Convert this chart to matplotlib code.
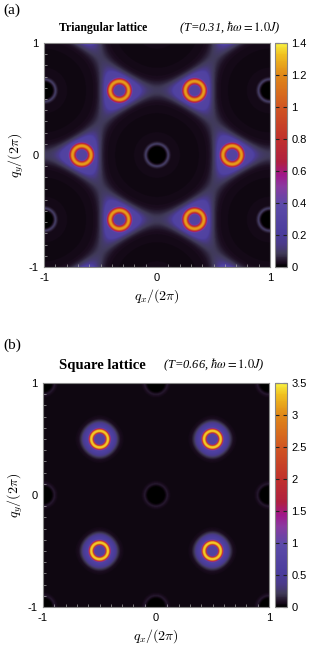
import numpy as np
import matplotlib
matplotlib.use('Agg')
import matplotlib.pyplot as plt
from matplotlib.colors import LinearSegmentedColormap
from matplotlib.ticker import MultipleLocator

# ring centres (one per sublattice) and reciprocal basis, in units of 2*pi
tri_centres = [(2/3, 0.0), (1/3, 1/np.sqrt(3))]
tri_basis = [(1.0, 1/np.sqrt(3)), (0.0, 2/np.sqrt(3))]
sq_centres = [(0.5, 0.5)]
sq_basis = [(1.0, 0.0), (0.0, 1.0)]

# background level vs lattice factor gamma(q)
tri_gamma = [-0.5, -0.44, -0.395, -0.38, -0.355, -0.333, -0.30, -0.25, -0.15, 0.0, 0.5,
             0.85, 0.88, 0.905, 0.93, 0.95, 1.0]
tri_level = [0.30, 0.30, 0.28, 0.15, 0.11, 0.09, 0.06, 0.035, 0.025, 0.022, 0.02,
             0.025, 0.06, 0.11, 0.04, 0.0, 0.0]
sq_gamma = [-1.0, -0.93, -0.87, -0.82, -0.76, -0.70, -0.60, 0.0, 0.84, 0.88, 0.905, 0.93, 0.95, 1.0]
sq_level = [0.70, 0.70, 0.65, 0.45, 0.20, 0.08, 0.05, 0.05, 0.05, 0.08, 0.12, 0.05, 0.0, 0.0]

# ring profile vs distance from ring centre
tri_ring_d = [0, 0.045, 0.06, 0.075, 0.09, 0.105, 0.12]
tri_ring_add = [0, 0, 0.45, 0.95, 0.95, 0.4, 0]
sq_ring_d = [0, 0.045, 0.055, 0.066, 0.082, 0.093, 0.105]
sq_ring_add = [0, 0, 1.2, 2.65, 2.65, 1.0, 0]

tri_ticks = [0, 0.2, 0.4, 0.6, 0.8, 1, 1.2, 1.4]
sq_ticks = [0, 0.5, 1, 1.5, 2, 2.5, 3, 3.5]
axis_ticks = [-1, 0, 1]

cmap_pos = [0, 0.02, 0.06, 0.1, 0.15, 0.28, 0.36, 0.41, 0.47, 0.57, 0.71, 0.86, 0.95, 1.0]
cmap_col = ['#000000', '#1a0c1e', '#403a58', '#4a3a88', '#4a3d9c', '#5b4aa8', '#8a3aa0',
            '#a0188a', '#b02040', '#c0302c', '#d05422', '#e08818', '#f0c020', '#f8f040']
cmap = LinearSegmentedColormap.from_list('pm', list(zip(cmap_pos, cmap_col)))

q = np.linspace(-1, 1, 500)
QX, QY = np.meshgrid(q, q)


def nearest(centres, basis):
    d = np.full(QX.shape, 10.0)
    for cx, cy in centres:
        for m in range(-3, 4):
            for n in range(-3, 4):
                gx = cx + m*basis[0][0] + n*basis[1][0]
                gy = cy + m*basis[0][1] + n*basis[1][1]
                d = np.minimum(d, np.hypot(QX - gx, QY - gy))
    return d


g_tri = (np.cos(2*np.pi*QX) + np.cos(np.pi*QX + np.sqrt(3)*np.pi*QY)
         + np.cos(-np.pi*QX + np.sqrt(3)*np.pi*QY)) / 3
g_sq = (np.cos(2*np.pi*QX) + np.cos(2*np.pi*QY)) / 2

I_tri = (np.interp(g_tri, tri_gamma, tri_level)
         + np.interp(nearest(tri_centres, tri_basis), tri_ring_d, tri_ring_add))
I_sq = (np.interp(g_sq, sq_gamma, sq_level)
        + np.interp(nearest(sq_centres, sq_basis), sq_ring_d, sq_ring_add))

W, H = 314, 646
fig = plt.figure(figsize=(W/100, H/100), dpi=100)


def px(l, t, r, b):
    return [l/W, 1 - b/H, (r - l)/W, (b - t)/H]


panels = [
    (I_tri, 1.4, tri_ticks, px(44, 43, 270, 267), px(275, 43, 287, 267),
     'Triangular lattice', 8.5, '(T=0.31, ', 179, 28, '(a)', 10),
    (I_sq, 3.5, sq_ticks, px(43, 383, 269, 607), px(275, 383, 287, 607),
     'Square lattice', 10.5, '(T=0.66, ', 163, 365, '(b)', 345),
]

for data, vmax, cticks, rect, crect, name, fs, temp, tx, ty, tag, tagy in panels:
    ax = fig.add_axes(rect)
    im = ax.imshow(data, extent=[-1, 1, -1, 1], origin='lower', cmap=cmap,
                   vmin=0, vmax=vmax, interpolation='bilinear', aspect='auto')
    ax.set_xticks(axis_ticks)
    ax.set_yticks(axis_ticks)
    ax.set_xticklabels(['-1', '0', '1'], family='Liberation Sans', fontsize=8)
    ax.set_yticklabels(['-1', '0', '1'], family='Liberation Sans', fontsize=8)
    ax.xaxis.set_minor_locator(MultipleLocator(0.1))
    ax.yaxis.set_minor_locator(MultipleLocator(0.1))
    ax.tick_params(which='both', direction='in', color='#aaaaaa', top=False, right=False)
    ax.tick_params(which='major', length=0, pad=4)
    ax.tick_params(which='minor', length=2, width=0.5)
    for s in ax.spines.values():
        s.set_color('#888888')
    ax.set_xlabel(r'$q_x/(2\pi)$', fontsize=10, math_fontfamily='cm', labelpad=3)
    ax.set_ylabel(r'$q_y/(2\pi)$', fontsize=10, math_fontfamily='cm', labelpad=2)

    cax = fig.add_axes(crect)
    cb = fig.colorbar(im, cax=cax, ticks=cticks)
    cb.ax.set_yticklabels([f'{t:g}' for t in cticks], family='Liberation Sans', fontsize=8)
    cb.ax.tick_params(direction='in', left=True, right=True, length=3, width=0.8,
                      color='#222222', pad=3)
    cb.outline.set_edgecolor('#888888')

    fig.text(59/W, 1 - ty/H, name, family='Liberation Serif', weight='bold',
             fontsize=fs, va='center', ha='left')
    fig.text(tx/W, 1 - ty/H, temp + r'$\hbar\omega = 1.0J$)', family='Liberation Serif',
             style='italic', fontsize=9, va='center', ha='left', math_fontfamily='stix')
    fig.text(3/W, 1 - tagy/H, tag, family='Liberation Serif', fontsize=11,
             va='center', ha='left')

fig.savefig('out.png', dpi=100)
